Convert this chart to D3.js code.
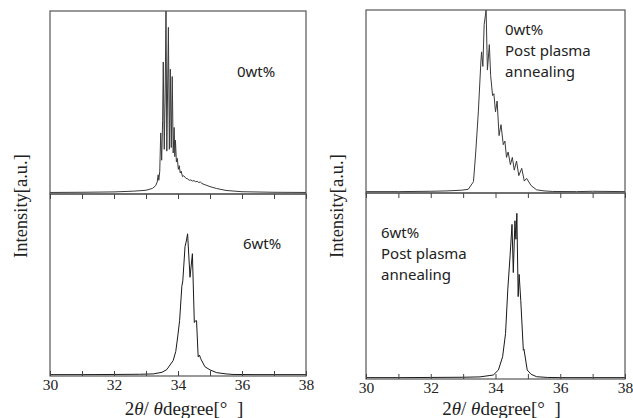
<!DOCTYPE html>
<html lang="en">
<head>
<meta charset="UTF-8">
<title>XRD patterns</title>
<script src="https://d3js.org/d3.v7.min.js"></script>
<style>
    body { margin: 0; background: #fff; }
    .tick text { font-family: 'Liberation Serif', 'Times New Roman', serif; font-size: 15.5px; fill: #222; }
    .tick line { stroke: #444; }
    .note { font-family: 'Noto Sans', 'Open Sans', sans-serif; font-size: 15px; fill: #222; }
    .axlabel { font-family: 'Liberation Serif', 'Times New Roman', serif; font-size: 19px; fill: #222; }
    .ylabel { font-family: 'Liberation Serif', 'Times New Roman', serif; font-size: 18.5px; fill: #222; }
</style>
</head>
<body>
<div id="chart"></div>
<script>
// 2theta values (degree) and normalised intensities
const xTicks = [30, 31, 32, 33, 34, 35, 36, 37, 38];

// top left: 0wt%
const x0wt = [30, 31, 32, 32.6, 33.0, 33.2, 33.3, 33.35, 33.38, 33.40, 33.43, 33.46, 33.49, 33.52, 33.54,
    33.57, 33.60, 33.625, 33.65, 33.70, 33.73, 33.76, 33.79, 33.82, 33.85, 33.88, 33.90, 33.92, 33.95,
    33.98, 34.01, 34.04, 34.07, 34.10, 34.14, 34.18, 34.25, 34.30, 34.35, 34.40, 34.45, 34.50, 34.55,
    34.60, 34.65, 34.70, 34.75, 34.85, 35.0, 35.2, 35.5, 36.0, 37.0, 38.0];
const y0wt = [0.003, 0.004, 0.006, 0.01, 0.015, 0.025, 0.04, 0.06, 0.10, 0.07, 0.12, 0.33, 0.18, 0.40, 0.72,
    0.24, 0.55, 1.02, 0.23, 0.91, 0.24, 0.68, 0.25, 0.64, 0.22, 0.36, 0.20, 0.29, 0.17,
    0.19, 0.13, 0.15, 0.11, 0.12, 0.09, 0.095, 0.08, 0.078, 0.07, 0.072, 0.066, 0.068, 0.062,
    0.064, 0.058, 0.06, 0.052, 0.045, 0.035, 0.025, 0.014, 0.007, 0.004, 0.003];

// bottom left: 6wt%
const x6wt = [30, 31, 32, 32.8, 33.23, 33.5, 33.65, 33.85, 33.93, 33.99, 34.05, 34.12, 34.15, 34.22, 34.26,
    34.30, 34.375, 34.45, 34.51, 34.55, 34.58, 34.63, 34.67, 34.71, 34.84, 35.0, 35.21, 35.5, 35.72, 36.5, 38];
const y6wt = [0.002, 0.002, 0.003, 0.004, 0.006, 0.015, 0.03, 0.08, 0.13, 0.21, 0.30, 0.49, 0.52, 0.71, 0.74,
    0.78, 0.54, 0.67, 0.29, 0.30, 0.30, 0.10, 0.11, 0.09, 0.046, 0.028, 0.013, 0.006, 0.003, 0.002, 0.002];

// top right: 0wt% post plasma annealing
const x0wtP = [30, 31, 32, 32.5, 32.96, 33.16, 33.32, 33.39, 33.47, 33.55, 33.57, 33.61, 33.65, 33.71,
    33.75, 33.81, 33.85, 33.91, 33.95, 34.0, 34.05, 34.11, 34.17, 34.24, 34.29, 34.34, 34.39, 34.46,
    34.52, 34.58, 34.65, 34.72, 34.81, 34.89, 34.96, 35.1, 35.27, 35.5, 35.77, 36.5, 37, 38];
const y0wtP = [0.002, 0.002, 0.004, 0.006, 0.01, 0.015, 0.057, 0.22, 0.44, 0.72, 0.77, 0.69, 0.92, 1.0,
    0.67, 0.81, 0.64, 0.53, 0.54, 0.44, 0.50, 0.31, 0.37, 0.26, 0.28, 0.19, 0.22, 0.15,
    0.19, 0.12, 0.17, 0.09, 0.13, 0.06, 0.075, 0.035, 0.012, 0.006, 0.003, 0.002, 0.004, 0.002];

// bottom right: 6wt% post plasma annealing
const x6wtP = [30, 31, 32, 33, 33.52, 33.93, 34.09, 34.22, 34.31, 34.38, 34.45, 34.51, 34.55, 34.60, 34.63,
    34.66, 34.70, 34.73, 34.78, 34.86, 34.88, 34.98, 35.1, 35.27, 35.6, 36, 37, 38];
const y6wtP = [0.002, 0.002, 0.003, 0.004, 0.006, 0.016, 0.043, 0.115, 0.24, 0.48, 0.66, 0.83, 0.57, 0.85, 0.75,
    0.89, 0.44, 0.56, 0.42, 0.15, 0.155, 0.043, 0.02, 0.007, 0.003, 0.002, 0.002, 0.002];

const svg = d3.select("#chart").append("svg")
    .attr("width", 633)
    .attr("height", 418);

// panel boxes [left, right] x [top, bottom]
const panels = [
    { xs: x0wt, ys: y0wt, x0: 50, x1: 306, top: 11, bottom: 194, base: 193, pos: "top",
      notes: ["0wt%"], nx: 237, ny: 77 },
    { xs: x6wt, ys: y6wt, x0: 50, x1: 306, top: 194, bottom: 376, base: 375, pos: "bottom",
      notes: ["6wt%"], nx: 243, ny: 249, pad: 3 },
    { xs: x0wtP, ys: y0wtP, x0: 366, x1: 625, top: 10, bottom: 193, base: 192, pos: "top",
      notes: ["0wt%", "Post plasma", "annealing"], nx: 505, ny: 35 },
    { xs: x6wtP, ys: y6wtP, x0: 366, x1: 625, top: 193, bottom: 379, base: 378, pos: "bottom",
      notes: ["6wt%", "Post plasma", "annealing"], nx: 381, ny: 238, pad: 3 }
];

panels.forEach((p, i) => {
    const x = d3.scaleLinear().domain([30, 38]).range([p.x0, p.x1]);
    const y = d3.scaleLinear().domain([0, 1]).range([p.base, p.top]);
    const g = svg.append("g");

    g.append("clipPath").attr("id", "clip" + i)
        .append("rect")
        .attr("x", p.x0).attr("y", p.top)
        .attr("width", p.x1 - p.x0).attr("height", p.bottom - p.top);

    const pts = p.xs.map((v, k) => [v, p.ys[k]]);
    g.append("path")
        .datum(pts)
        .attr("clip-path", `url(#clip${i})`)
        .attr("fill", "none")
        .attr("stroke", p.pos === "top" ? "#3a3a3a" : "#1a1a1a")
        .attr("stroke-width", 1)
        .attr("stroke-linejoin", "round")
        .attr("d", d3.line().x(d => x(d[0])).y(d => y(d[1])));

    g.append("rect")
        .attr("x", p.x0).attr("y", p.top)
        .attr("width", p.x1 - p.x0).attr("height", p.bottom - p.top)
        .attr("fill", "none")
        .attr("stroke", "#555")
        .attr("stroke-width", 1.2);

    if (p.pos === "bottom") {
        // inward ticks along the shared border and along the bottom
        const topAx = g.append("g")
            .attr("transform", `translate(0,${p.top})`)
            .call(d3.axisTop(x).tickValues(xTicks).tickSizeInner(-5).tickSizeOuter(0).tickFormat(""));
        topAx.select(".domain").remove();

        const botAx = g.append("g")
            .attr("transform", `translate(0,${p.bottom})`)
            .call(d3.axisBottom(x).tickValues(xTicks).tickSizeInner(-5).tickSizeOuter(0)
                .tickPadding(p.pad).tickFormat(d => d % 2 === 0 ? d : ""));
        botAx.select(".domain").remove();

        const lbl = g.append("text")
            .attr("class", "axlabel")
            .attr("x", (p.x0 + p.x1) / 2 + 6)
            .attr("y", 415)
            .attr("text-anchor", "middle");
        lbl.append("tspan").text("2");
        lbl.append("tspan").attr("font-style", "italic").text("θ");
        lbl.append("tspan").text("/ ");
        lbl.append("tspan").attr("font-style", "italic").text("θ");
        lbl.append("tspan").text("degree[°\u2002]");

        svg.append("text")
            .attr("class", "ylabel")
            .attr("transform", `translate(${p.x0 - 23},206) rotate(-90)`)
            .attr("text-anchor", "middle")
            .text("Intensity[a.u.]");
    }

    const note = g.append("text").attr("class", "note");
    p.notes.forEach((t, k) => {
        note.append("tspan").attr("x", p.nx).attr("y", p.ny + k * 21).text(t);
    });
});
</script>
</body>
</html>
